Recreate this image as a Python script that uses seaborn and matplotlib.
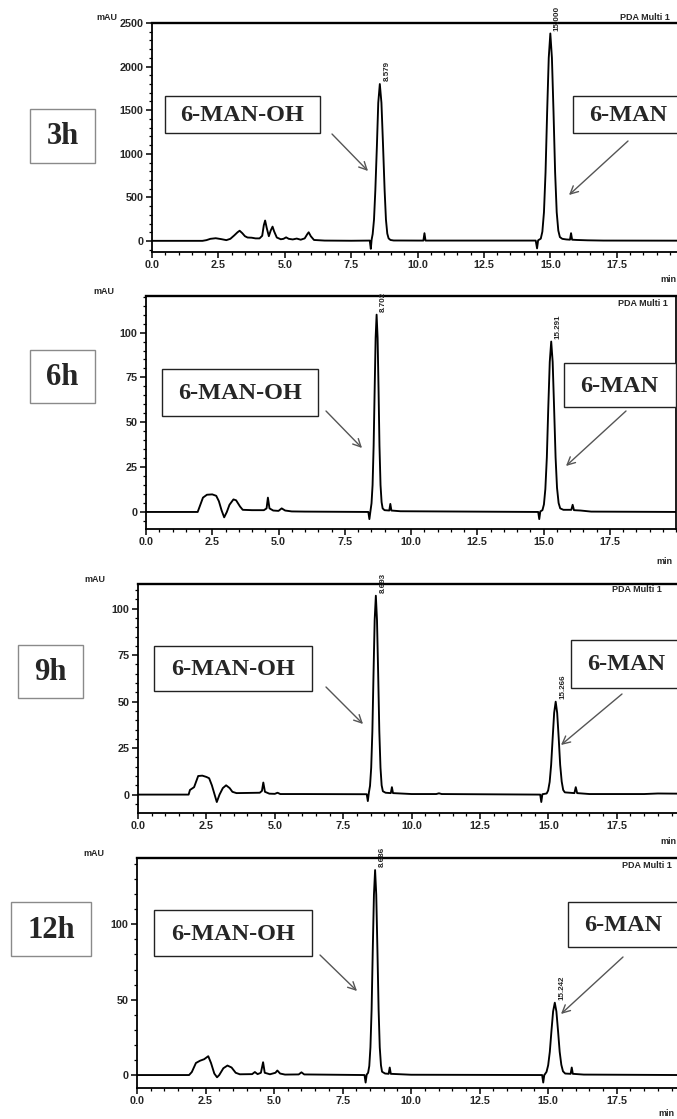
import matplotlib
matplotlib.use("Agg")
import matplotlib.pyplot as plt
from matplotlib.ticker import MultipleLocator
from matplotlib.patches import Rectangle
import seaborn as sns

# ---------------- data ----------------
panel_labels = ["3h", "6h", "9h", "12h"]
peak_names = ["6-MAN-OH", "6-MAN"]

t_3h = [0, 1.9, 2.05, 2.2, 2.4, 2.6, 2.8, 2.95, 3.1, 3.22, 3.3, 3.4, 3.5, 3.6, 3.75, 3.9,
        4.05, 4.15, 4.21, 4.26, 4.32, 4.4, 4.47, 4.54, 4.6, 4.7, 4.85, 4.95, 5.05, 5.15,
        5.3, 5.45, 5.6, 5.75, 5.85, 5.9, 5.98, 6.1, 6.5, 7.5, 8.2, 8.24, 8.27, 8.31, 8.36,
        8.41, 8.47, 8.52, 8.579, 8.64, 8.70, 8.76, 8.81, 8.86, 8.91, 8.98, 9.1, 10.0, 10.22,
        10.26, 10.3, 14.45, 14.5, 14.54, 14.64, 14.70, 14.76, 14.82, 14.88, 14.94, 15.0,
        15.06, 15.12, 15.18, 15.24, 15.30, 15.36, 15.45, 15.6, 15.74, 15.78, 15.82, 16.0,
        16.4, 17.0, 19.8]
y_3h = [2, 2, 10, 25, 32, 22, 10, 25, 65, 100, 118, 90, 55, 40, 38, 30,
        30, 60, 180, 235, 150, 55, 120, 165, 110, 40, 20, 25, 42, 25,
        18, 28, 15, 30, 80, 100, 55, 12, 5, 3, 5, -90, 15, 80, 245,
        580, 1100, 1585, 1800, 1585, 1100, 580, 245, 85, 30, 12, 6, 5, 5,
        90, 5, 5, -85, 8, 27, 107, 330, 790, 1480, 2100, 2380,
        2100, 1480, 790, 330, 120, 45, 25, 18, 15, 90, 15, 12,
        8, 5, 4]

t_6h = [0, 1.95, 2.05, 2.15, 2.3, 2.5, 2.65, 2.75, 2.85, 2.95, 3.05, 3.15, 3.3, 3.4, 3.55,
        3.65, 4.0, 4.45, 4.55, 4.6, 4.66, 4.8, 5.0, 5.12, 5.25, 5.5, 6.0, 8.39, 8.43, 8.47,
        8.51, 8.55, 8.59, 8.627, 8.665, 8.702, 8.74, 8.777, 8.81, 8.85, 8.89, 8.93, 9.0,
        9.18, 9.22, 9.26, 9.6, 14.8, 14.84, 14.88, 14.96, 15.016, 15.07, 15.126, 15.18,
        15.236, 15.291, 15.346, 15.40, 15.456, 15.51, 15.57, 15.63, 15.75, 16.05, 16.1,
        16.15, 16.4, 16.8, 20.1]
y_6h = [0, 0, 4, 8, 9.6, 9.8, 9, 6, 1, -3, 0, 4, 7, 6.5, 3,
        1.2, 1, 1, 2, 8, 2, 0.8, 0.6, 2, 0.8, 0.3, 0.2, 0, -4, 0.5,
        4.8, 15, 37, 67, 97, 110, 97, 67, 37, 15, 5.5, 2, 1,
        0.8, 4.5, 0.8, 0.4, 0, -4, 0.3, 1, 4.2, 12.8, 30.4, 58,
        83.6, 95, 83.6, 58, 30.4, 13.5, 5, 2, 1.2, 1.2, 4,
        1, 0.8, 0.2, 0]

t_9h = [0, 1.85, 1.9, 2.05, 2.2, 2.35, 2.5, 2.6, 2.7, 2.8, 2.88, 2.98, 3.1, 3.22, 3.35,
        3.45, 3.6, 4.45, 4.53, 4.58, 4.64, 4.8, 5.0, 5.1, 5.2, 6.0, 8.36, 8.40, 8.44, 8.48,
        8.523, 8.566, 8.608, 8.65, 8.693, 8.735, 8.778, 8.82, 8.863, 8.905, 8.95, 9.05,
        9.24, 9.28, 9.32, 10.0, 10.9, 11.0, 11.1, 14.7, 14.74, 14.78, 14.936, 14.99,
        15.046, 15.10, 15.156, 15.21, 15.266, 15.32, 15.376, 15.43, 15.486, 15.54, 15.6,
        15.95, 16.0, 16.05, 16.5, 18.5, 19.0, 19.8]
y_9h = [0, 0, 2.5, 4, 10, 10.2, 9.5, 8.8, 5, 0, -4, 0, 3.5, 5, 3.5,
        1.5, 0.8, 1, 2, 6.5, 1.5, 0.5, 0.4, 1, 0.3, 0.3, 0.2, -3.5, 1.2, 4.7,
        14.4, 34, 65, 94, 107, 94, 65, 34, 14.4, 5, 1.8, 1,
        0.8, 4, 0.8, 0.3, 0.3, 0.7, 0.3, 0, -4, 0.2, 0.6, 2.2,
        6.8, 16, 30.5, 44, 50, 44, 30.5, 16, 7, 2.5, 1.2,
        0.8, 4, 0.8, 0.3, 0.3, 0.6, 0.5]

t_12h = [0, 1.9, 2.0, 2.15, 2.3, 2.45, 2.6, 2.7, 2.82, 2.92, 3.0, 3.15, 3.3, 3.45, 3.6,
         3.75, 4.2, 4.3, 4.4, 4.52, 4.6, 4.66, 4.85, 5.05, 5.12, 5.22, 5.4, 5.9, 6.0, 6.1,
         8.3, 8.34, 8.38, 8.431, 8.474, 8.516, 8.559, 8.601, 8.644, 8.686, 8.728, 8.771,
         8.814, 8.856, 8.9, 8.94, 9.05, 9.18, 9.22, 9.26, 10.0, 14.78, 14.82, 14.86, 14.88,
         14.94, 15.0, 15.06, 15.12, 15.18, 15.242, 15.30, 15.36, 15.42, 15.48, 15.54, 15.62,
         15.82, 15.86, 15.9, 16.3, 19.8]
y_12h = [0, 0, 2, 8, 9.5, 10.5, 12.5, 8, 1, -1.5, 0, 4.5, 6.3, 5, 1.5,
         0.5, 0.6, 2, 0.6, 1.5, 8.5, 1.5, 0.5, 1.5, 3, 1, 0.3, 0.4, 1.8, 0.4,
         0, -5, 0.3, 1.5, 6, 18.4, 43.5, 83, 119.7, 136, 119.7, 83,
         43.5, 18.4, 6.5, 2.2, 1, 0.8, 5, 0.8, 0.2, 0, -5, 0.2, 0.5,
         2.1, 6.5, 15.4, 29.3, 42.2, 48, 42.2, 29.3, 15.4, 6.8, 2.5, 1,
         0.8, 5, 0.8, 0.3, 0]

peak_rt = [["8.579", "15.000"], ["8.702", "15.291"], ["8.693", "15.266"], ["8.686", "15.242"]]
peak_t = [[8.579, 15.000], [8.702, 15.291], [8.693, 15.266], [8.686, 15.242]]
peak_h = [[1800, 2380], [110, 95], [107, 50], [136, 48]]

x_ticks = [0.0, 2.5, 5.0, 7.5, 10.0, 12.5, 15.0, 17.5]
y_major = [500, 25, 25, 50]
y_minor = [100, 5, 5, 10]

traces = [(t_3h, y_3h), (t_6h, y_6h), (t_9h, y_9h), (t_12h, y_12h)]

# ---------------- layout (pixels) ----------------
W, H = 677, 1119
axes_px = [  # left, top, right, bottom
    (152, 23, 677, 252),
    (146, 296, 676, 529),
    (138, 584, 677, 813),
    (137, 858, 677, 1088),
]
xlims = [(0, 19.77), (0, 20.0), (0, 19.7), (0, 19.7)]
ylims = [(-126, 2500), (-9.5, 120.4), (-9.9, 113.3), (-8.6, 144)]

time_boxes = [(30, 109, 95, 163), (30, 350, 95, 403), (18, 645, 83, 698), (11, 902, 91, 956)]
oh_boxes = [(165, 96, 320, 133), (162, 369, 318, 416), (154, 646, 312, 691), (154, 910, 312, 956)]
man_boxes = [(573, 96, 700, 133), (564, 363, 676, 407), (571, 640, 700, 688), (568, 902, 700, 947)]
arrows1 = [((332, 134), (368, 171)), ((326, 411), (362, 448)),
           ((326, 687), (363, 724)), ((320, 955), (357, 991))]
arrows2 = [((628, 141), (569, 195)), ((626, 411), (566, 466)),
           ((622, 694), (561, 745)), ((623, 957), (561, 1014))]
mau_pos = [(107, 17), (104, 292), (95, 579), (94, 854)]
pda_pos = [(620, 18), (618, 304), (612, 589), (622, 866)]
min_pos = [(660, 280), (656, 561), (660, 841), (658, 1114)]

sns.set_theme(style="ticks")
plt.rcParams["font.family"] = ["Liberation Sans", "DejaVu Sans"]

fig = plt.figure(figsize=(W / 100, H / 100), dpi=100)
fig.patch.set_facecolor("white")


def fr(x, y):
    return x / W, 1 - y / H


for i in range(4):
    l, t, r, b = axes_px[i]
    ax = fig.add_axes([l / W, 1 - b / H, (r - l) / W, (b - t) / H])
    tx, ty = traces[i]
    sns.lineplot(x=tx, y=ty, ax=ax, color="black", linewidth=1.35,
                 estimator=None, sort=False)
    ax.set_xlim(*xlims[i])
    ax.set_xticks(x_ticks)
    ax.set_xticklabels([f"{v:.1f}" for v in x_ticks])
    ax.xaxis.set_minor_locator(MultipleLocator(0.5))
    ax.yaxis.set_major_locator(MultipleLocator(y_major[i]))
    ax.yaxis.set_minor_locator(MultipleLocator(y_minor[i]))
    ax.set_ylim(*ylims[i])
    ax.tick_params(axis="both", which="major", direction="out", length=4, width=1.1,
                   color="black", labelsize=7.8, pad=2)
    ax.tick_params(axis="both", which="minor", direction="out", length=2.2, width=0.9,
                   color="black")
    for lab in ax.get_xticklabels() + ax.get_yticklabels():
        lab.set_fontweight("bold")
    for side in ["left", "bottom", "top"]:
        ax.spines[side].set_visible(True)
        ax.spines[side].set_color("black")
        ax.spines[side].set_linewidth(1.3)
    ax.spines["top"].set_linewidth(1.7)
    ax.spines["right"].set_visible(i == 1)
    ax.spines["right"].set_color("black")
    ax.set_xlabel("")
    ax.set_ylabel("")
    ax.set_facecolor("white")

    # peak retention-time labels
    for k in range(2):
        ax.annotate(peak_rt[i][k], xy=(peak_t[i][k], peak_h[i][k]), xytext=(2.5, 2),
                    textcoords="offset points", rotation=90, ha="left", va="bottom",
                    fontsize=5.8, fontweight="bold", annotation_clip=False)

    # time box
    x0, y0, x1, y1 = time_boxes[i]
    fig.add_artist(Rectangle(fr(x0, y1), (x1 - x0) / W, (y1 - y0) / H,
                             transform=fig.transFigure, facecolor="white",
                             edgecolor="#8a8a8a", linewidth=1.0))
    fig.text(*fr((x0 + x1) / 2, (y0 + y1) / 2 + 1), panel_labels[i], ha="center", va="center",
             fontsize=22, fontweight="bold", family="Liberation Serif")

    # compound boxes
    for (bx, name) in [(oh_boxes[i], peak_names[0]), (man_boxes[i], peak_names[1])]:
        x0, y0, x1, y1 = bx
        fig.add_artist(Rectangle(fr(x0, y1), (x1 - x0) / W, (y1 - y0) / H,
                                 transform=fig.transFigure, facecolor="white",
                                 edgecolor="#222222", linewidth=1.0, zorder=2))
        cx = (x0 + min(x1, 677)) / 2 if name == "6-MAN-OH" else x0 + 55
        fig.text(*fr(cx, (y0 + y1) / 2 + 1), name, ha="center", va="center",
                 fontsize=17.5, fontweight="bold", family="Liberation Serif", zorder=3)

    # arrows
    for (p0, p1) in [arrows1[i], arrows2[i]]:
        ax.annotate("", xy=(p1[0], H - p1[1]), xytext=(p0[0], H - p0[1]),
                    xycoords="figure pixels", textcoords="figure pixels",
                    arrowprops=dict(arrowstyle="->", color="#555555", lw=1.0,
                                    mutation_scale=14, shrinkA=0, shrinkB=0),
                    annotation_clip=False)

    fig.text(*fr(*mau_pos[i]), "mAU", ha="center", va="center", fontsize=6.5,
             fontweight="bold")
    fig.text(*fr(*pda_pos[i]), "PDA Multi 1", ha="left", va="center", fontsize=6.5,
             fontweight="bold")
    fig.text(*fr(*min_pos[i]), "min", ha="left", va="center", fontsize=6.5,
             fontweight="bold")

fig.savefig("out.png", dpi=100, facecolor="white")
